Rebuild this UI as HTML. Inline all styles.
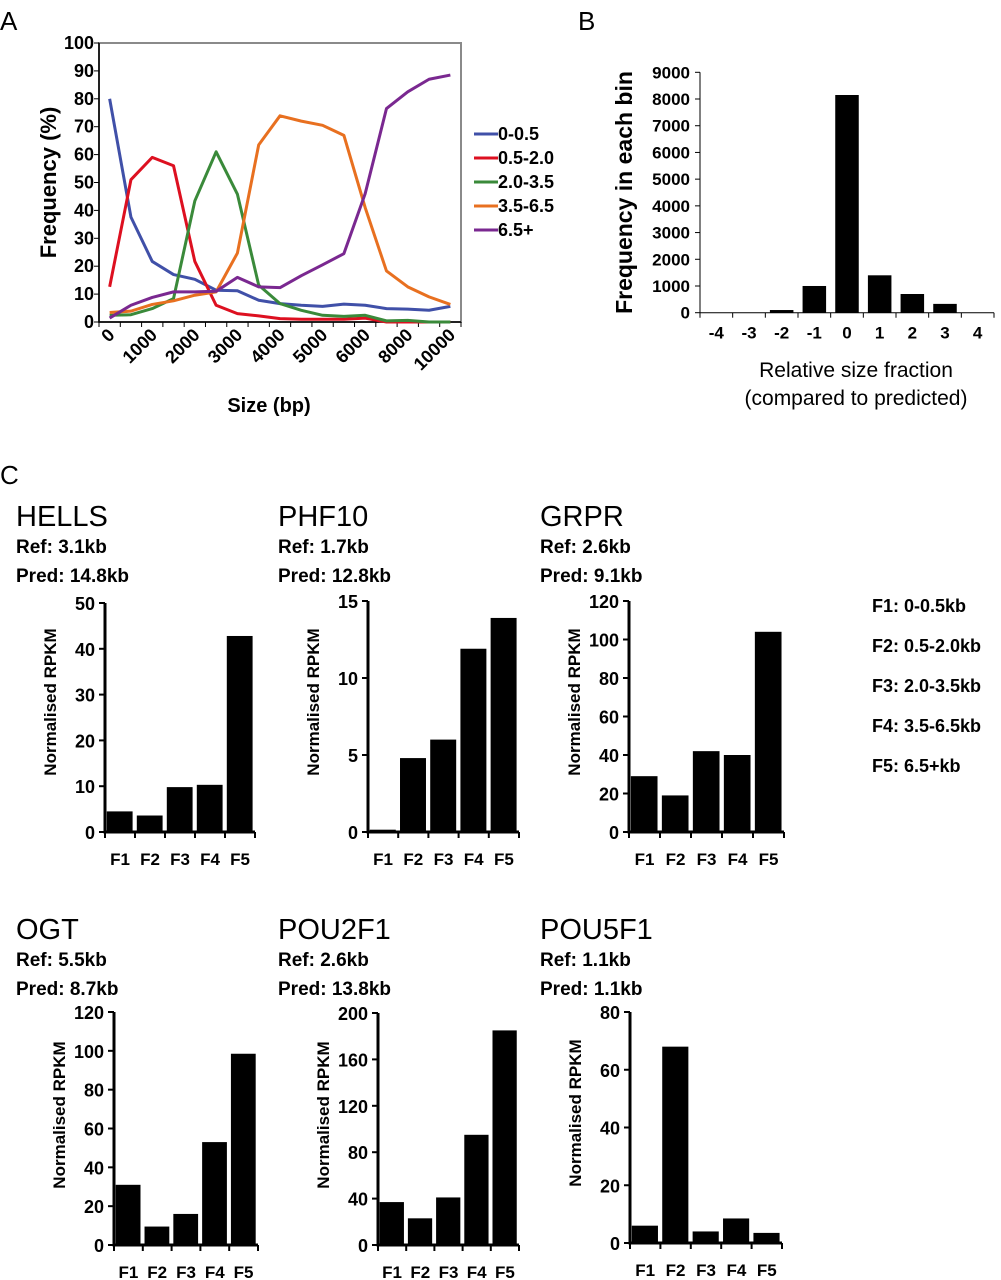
<!DOCTYPE html>
<html><head><meta charset="utf-8">
<style>
html,body{margin:0;padding:0;background:#fff;}
svg{display:block;font-family:"Liberation Sans",Arial,sans-serif;}
</style></head>
<body>
<svg id="fig" width="1001" height="1280" viewBox="0 0 1001 1280" xmlns="http://www.w3.org/2000/svg">
<text x="0" y="30" font-size="26">A</text>
<text x="578" y="30" font-size="26">B</text>
<text x="0" y="484" font-size="26">C</text>
<g id="gA"></g>
<g id="gB"></g>
<g id="gC"></g>
<g font-size="18" font-weight="bold" fill="#000">
<text x="872" y="612">F1: 0-0.5kb</text>
<text x="872" y="652">F2: 0.5-2.0kb</text>
<text x="872" y="692">F3: 2.0-3.5kb</text>
<text x="872" y="732">F4: 3.5-6.5kb</text>
<text x="872" y="772">F5: 6.5+kb</text>
</g>
</svg>
<script>
const NS="http://www.w3.org/2000/svg";
// Panel A data
const aCats=["0","500","1000","1500","2000","2500","3000","3500","4000","4500","5000","5500","6000","7000","8000","9000","10000"];
const aTickLabels=["0","","1000","","2000","","3000","","4000","","5000","","6000","","8000","","10000"];
const aSeriesNames=["0-0.5","0.5-2.0","2.0-3.5","3.5-6.5","6.5+"];
const aColors=["#4050a8","#dd1020","#3a8a3a","#e87020","#7a2890"];
const sBlue=[80,37.6,21.7,17,15.3,11.4,11.2,7.8,6.6,6,5.6,6.4,6,4.8,4.6,4.2,5.6];
const sRed=[12.6,51,59,56,21.7,6,3,2.2,1.2,1,1,1,1.4,0,0,0,0];
const sGreen=[2.4,2.6,4.8,8.4,43.4,61,45.8,13.2,6.6,4.2,2.4,2,2.4,0.4,0.6,0,0];
const sOrange=[3.4,3.9,6.3,7.6,9.6,10.8,24.7,63.5,73.9,72,70.5,66.9,41,18.3,12.6,9,6.3];
const sPurple=[1.4,6,8.8,10.8,10.8,11,16,12.6,12.3,16.6,20.5,24.5,46,76.5,82.5,87,88.5];
const aYTicks=[0,10,20,30,40,50,60,70,80,90,100];
// Panel B data
const bCats=["-4","-3","-2","-1","0","1","2","3","4"];
const bVals=[0,0,100,1000,8150,1400,700,330,0];
const bYTicks=[0,1000,2000,3000,4000,5000,6000,7000,8000,9000];
// Panel C data
const cCats=["F1","F2","F3","F4","F5"];
const hellsVals=[4.5,3.6,9.8,10.3,42.8];
const phf10Vals=[0.15,4.8,6.0,11.9,13.9];
const grprVals=[29,19,42,40,104];
const ogtVals=[31,9.5,16,53,98.5];
const pou2f1Vals=[37,23,41,95,185];
const pou5f1Vals=[6,68,4,8.5,3.5];
const hellsTicks=[0,10,20,30,40,50];
const phf10Ticks=[0,5,10,15];
const grprTicks=[0,20,40,60,80,100,120];
const ogtTicks=[0,20,40,60,80,100,120];
const pou2f1Ticks=[0,40,80,120,160,200];
const pou5f1Ticks=[0,20,40,60,80];

function mk(tag,attrs,parent,text){const e=document.createElementNS(NS,tag);for(const k in attrs)e.setAttribute(k,attrs[k]);if(text!==undefined)e.textContent=text;parent.appendChild(e);return e;}

// ---- Panel A
(function(){
const g=document.getElementById('gA');
const L=99,R=461,T=43,B=322;
const n=aCats.length, cw=(R-L)/n;
const x=i=>L+cw*(i+0.5), y=v=>B-(v/100)*(B-T);
const frame=mk('rect',{x:L,y:T,width:R-L,height:B-T,fill:'none',stroke:'#8a8a8a','stroke-width':2},g);


const yax=mk('line',{x1:L,y1:T,x2:L,y2:B,stroke:'#000','stroke-width':1.5},g);


const xax=mk('line',{x1:L,y1:B,x2:R,y2:B,stroke:'#000','stroke-width':1.5},g);


aYTicks.forEach(v=>{
 mk('line',{x1:L-5,y1:y(v),x2:L,y2:y(v),stroke:'#000'},g);
 const t=mk('text',{x:L-5,y:y(v)+6,'text-anchor':'end','font-size':18,'font-weight':'bold'},g,v);
 
 
});
for(let i=0;i<=n;i++) mk('line',{x1:L+cw*i,y1:B,x2:L+cw*i,y2:B+5,stroke:'#000'},g);
aTickLabels.forEach((lab,i)=>{ if(!lab)return;
 const t=mk('text',{x:0,y:0,'text-anchor':'end','font-size':18,'font-weight':'bold',transform:`translate(${x(i)+6},${B+14}) rotate(-45)`},g,lab);
 
 
});
const series=[sBlue,sRed,sGreen,sOrange,sPurple];
series.forEach((s,k)=>{
 const p=mk('polyline',{points:s.map((v,i)=>x(i)+','+y(v)).join(' '),fill:'none',stroke:aColors[k],'stroke-width':3,'stroke-linejoin':'round'},g);
 
 
});
aSeriesNames.forEach((nm,k)=>{
 const yy=134+k*24;
 const le=mk('g',{},g);
 
 
 mk('line',{x1:474,y1:yy,x2:498,y2:yy,stroke:aColors[k],'stroke-width':3},le);
 mk('text',{x:498,y:yy+6,'font-size':18,'font-weight':'bold'},le,nm);
});
const yt=mk('text',{x:0,y:0,'text-anchor':'middle','font-size':22,'font-weight':'bold',transform:`translate(56,${(T+B)/2}) rotate(-90)`},g,'Frequency (%)');


const xt=mk('text',{x:269,y:412,'text-anchor':'middle','font-size':20,'font-weight':'bold'},g,'Size (bp)');


})();

// ---- Panel B
(function(){
const g=document.getElementById('gB');
const L=700,R=994,T=72.3,B=312.7,max=9000;
const n=bCats.length,cw=(R-L)/n;
const y=v=>B-(v/max)*(B-T);
bVals.forEach((v,i)=>{
 const r=mk('rect',{x:L+cw*i+cw*0.14,y:y(v),width:cw*0.72,height:B-y(v),fill:'#000'},g);
 
 
 const t=mk('text',{x:L+cw*(i+0.5),y:B+26,'text-anchor':'middle','font-size':17,'font-weight':'bold'},g,bCats[i]);
 
 
});
mk('line',{x1:L,y1:T,x2:L,y2:B,stroke:'#000','stroke-width':1},g);
mk('line',{x1:L,y1:B,x2:R,y2:B,stroke:'#000','stroke-width':1},g);
for(let i=0;i<=n;i++) mk('line',{x1:L+cw*i,y1:B,x2:L+cw*i,y2:B+5,stroke:'#000'},g);
bYTicks.forEach(v=>{
 mk('line',{x1:L-5,y1:y(v),x2:L,y2:y(v),stroke:'#000'},g);
 const t=mk('text',{x:L-10,y:y(v)+6,'text-anchor':'end','font-size':17,'font-weight':'bold'},g,v);
 
 
});
const yt=mk('text',{x:0,y:0,'text-anchor':'middle','font-size':23,'font-weight':'bold',transform:`translate(632,${(T+B)/2}) rotate(-90)`},g,'Frequency in each bin');


const x1=mk('text',{x:856,y:377,'text-anchor':'middle','font-size':21},g,'Relative size fraction');


const x2=mk('text',{x:856,y:405,'text-anchor':'middle','font-size':21},g,'(compared to predicted)');


})();

// ---- Panel C
function smallChart(o){
 const g=mk('g',{},document.getElementById('gC'));
 
 
 const t1=mk('text',{x:o.tx,y:o.ty,'font-size':29},g,o.name);
 
 
 const t2=mk('text',{x:o.tx,y:o.ty+27,'font-size':19,'font-weight':'bold'},g,o.ref);
 
 
 const t3=mk('text',{x:o.tx,y:o.ty+56,'font-size':19,'font-weight':'bold'},g,o.pred);
 
 
 const L=o.L,R=o.R,T=o.T,B=o.B,max=o.ticks[o.ticks.length-1];
 const n=cCats.length,cw=(R-L)/n;
 const y=v=>B-(v/max)*(B-T);
 o.vals.forEach((v,i)=>{
  const r=mk('rect',{x:L+cw*i+cw*0.06,y:y(v),width:cw*0.86,height:B-y(v),fill:'#000'},g);
  
  
  const t=mk('text',{x:L+cw*(i+0.5),y:B+33,'text-anchor':'middle','font-size':17,'font-weight':'bold'},g,cCats[i]);
  
  
 });
 mk('line',{x1:L,y1:T,x2:L,y2:B+1.5,stroke:'#000','stroke-width':3},g);
 mk('line',{x1:L,y1:B,x2:R,y2:B,stroke:'#000','stroke-width':3},g);
 for(let i=0;i<=n;i++) mk('line',{x1:L+cw*i,y1:B,x2:L+cw*i,y2:B+6,stroke:'#000','stroke-width':2},g);
 o.ticks.forEach(v=>{
  mk('line',{x1:L-6,y1:y(v),x2:L,y2:y(v),stroke:'#000','stroke-width':2},g);
  const t=mk('text',{x:L-10,y:y(v)+7,'text-anchor':'end','font-size':18,'font-weight':'bold'},g,v);
  
  
 });
 const yt=mk('text',{x:0,y:0,'text-anchor':'middle','font-size':17,'font-weight':'bold',transform:`translate(${L-49},${B-130}) rotate(-90)`},g,'Normalised RPKM');
 
 
}
smallChart({name:'HELLS',ref:'Ref: 3.1kb',pred:'Pred: 14.8kb',tx:16,ty:526,L:105,R:255,T:603,B:832,vals:hellsVals,ticks:hellsTicks});
smallChart({name:'PHF10',ref:'Ref: 1.7kb',pred:'Pred: 12.8kb',tx:278,ty:526,L:368,R:519,T:601,B:832,vals:phf10Vals,ticks:phf10Ticks});
smallChart({name:'GRPR',ref:'Ref: 2.6kb',pred:'Pred: 9.1kb',tx:540,ty:526,L:629,R:784,T:601,B:832,vals:grprVals,ticks:grprTicks});
smallChart({name:'OGT',ref:'Ref: 5.5kb',pred:'Pred: 8.7kb',tx:16,ty:939,L:114,R:258,T:1012,B:1245,vals:ogtVals,ticks:ogtTicks});
smallChart({name:'POU2F1',ref:'Ref: 2.6kb',pred:'Pred: 13.8kb',tx:278,ty:939,L:378,R:519,T:1013,B:1245,vals:pou2f1Vals,ticks:pou2f1Ticks});
smallChart({name:'POU5F1',ref:'Ref: 1.1kb',pred:'Pred: 1.1kb',tx:540,ty:939,L:630,R:782,T:1012,B:1243,vals:pou5f1Vals,ticks:pou5f1Ticks});
</script>
</body></html>
